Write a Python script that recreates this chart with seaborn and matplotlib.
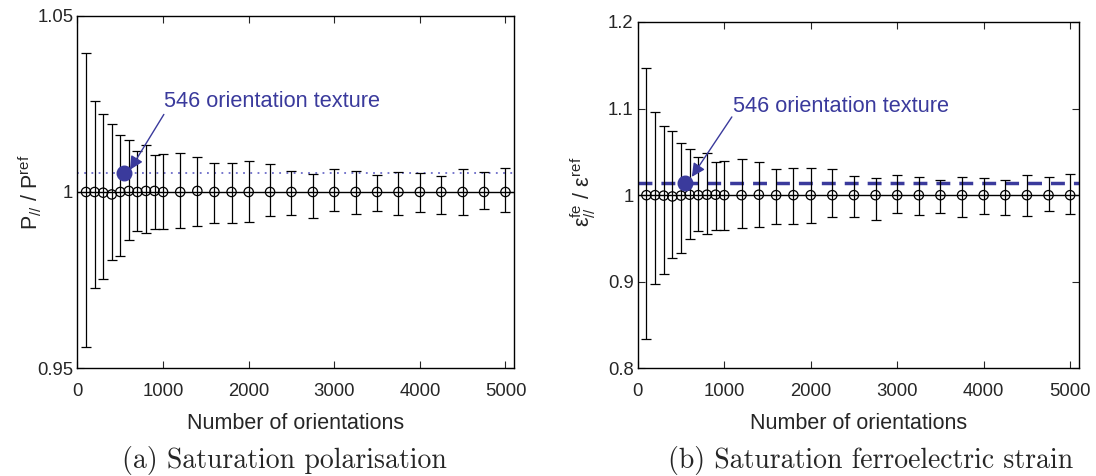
"""
Convergence of saturation polarisation and ferroelectric strain
with the number of grain orientations
"""
import numpy as np
import pandas as pd
import matplotlib
matplotlib.use("Agg")
import matplotlib.pyplot as plt
import seaborn as sns

sns.set_style("white")
plt.rcParams['font.family'] = ['Liberation Sans', 'DejaVu Sans']
plt.rcParams['mathtext.fontset'] = 'custom'
plt.rcParams['mathtext.rm'] = 'Liberation Sans'
plt.rcParams['mathtext.it'] = 'Liberation Sans'

# Data
n_orient = [100, 200, 300, 400, 500, 600, 700, 800, 900, 1000,
            1200, 1400, 1600, 1800, 2000,
            2250, 2500, 2750, 3000, 3250, 3500, 3750, 4000, 4250, 4500, 4750, 5000]

pol_mean = [1.0, 1.0, 0.9998, 0.9993, 1.0, 1.0003, 1.0, 1.0003, 1.0003, 1.0,
            1.0, 1.0003, 1.0, 1.0, 1.0,
            1.0, 1.0, 1.0, 1.0, 1.0, 1.0, 1.0, 1.0, 1.0, 1.0, 1.0, 1.0]
pol_err_up = [0.0393, 0.0257, 0.0222, 0.0200, 0.0162, 0.0144, 0.0115, 0.0131, 0.0101, 0.0107,
              0.0112, 0.0097, 0.0081, 0.0081, 0.0088,
              0.0078, 0.0060, 0.0052, 0.0066, 0.0060, 0.0047, 0.0056, 0.0053, 0.0045, 0.0064, 0.0058, 0.0067]
pol_err_low = [0.0440, 0.0272, 0.0244, 0.0186, 0.0181, 0.0138, 0.0112, 0.0118, 0.0108, 0.0105,
               0.0102, 0.0099, 0.0089, 0.0087, 0.0084,
               0.0068, 0.0065, 0.0073, 0.0055, 0.0061, 0.0054, 0.0064, 0.0056, 0.0062, 0.0065, 0.0048, 0.0056]

str_mean = [1.0, 1.0, 0.9995, 0.9985, 0.9995, 1.0005, 1.0, 1.0005, 1.0005, 1.0,
            1.0, 1.0005, 1.0, 1.0, 1.0,
            1.0, 1.0, 1.0, 1.0, 1.0, 1.0, 1.0, 1.0, 1.0, 1.0, 1.0, 1.0]
str_err_up = [0.1468, 0.0961, 0.0804, 0.0753, 0.0607, 0.0523, 0.0442, 0.0477, 0.0377, 0.0392,
              0.0419, 0.0381, 0.0300, 0.0308, 0.0319,
              0.0303, 0.0223, 0.0200, 0.0238, 0.0211, 0.0177, 0.0204, 0.0196, 0.0177, 0.0238, 0.0208, 0.0246]
str_err_low = [0.1657, 0.1027, 0.0903, 0.0711, 0.0665, 0.0515, 0.0419, 0.0450, 0.0408, 0.0400,
               0.0384, 0.0377, 0.0338, 0.0338, 0.0319,
               0.0254, 0.0257, 0.0281, 0.0211, 0.0234, 0.0208, 0.0250, 0.0215, 0.0234, 0.0242, 0.0185, 0.0215]

texture_n = 546
texture_pol = 1.0053
texture_str = 1.0146
texture_label = '546 orientation texture'

blue = '#3a3a9c'

fig = plt.figure(figsize=(10.96, 4.76), dpi=100)
ax1 = fig.add_axes([0.0707, 0.2263, 0.3983, 0.7407])
ax2 = fig.add_axes([0.5819, 0.226, 0.4024, 0.728])

panels = [
    (ax1, pol_mean, pol_err_low, pol_err_up, texture_pol, (0.95, 1.05), [0.95, 1, 1.05],
     ['0.95', '1', '1.05'], r'$\mathregular{P_{//}\ /\ P^{ref}}$',
     '(a) Saturation polarisation', (1013, 1.0257), (1009, 1.022), (613, 1.0063),
     (-0.077, 0.5), -0.127, (0.475, -0.262)),
    (ax2, str_mean, str_err_low, str_err_up, texture_str, (0.8, 1.2), [0.8, 0.9, 1, 1.1, 1.2],
     ['0.8', '0.9', '1', '1.1', '1.2'], r'$\mathregular{ε^{fe}_{//}\ /\ ε^{ref}}$',
     '(b) Saturation ferroelectric strain', (1100, 1.102), (1088, 1.0903), (625, 1.0211),
     (-0.09, 0.51), -0.129, (0.527, -0.266)),
]

for (ax, mean, err_lo, err_hi, tex_val, ylim, yticks, yticklabels, ylabel,
     caption, text_xy, tail_xy, head_xy, ylab_xy, xlab_y, cap_xy) in panels:
    df = pd.DataFrame({'n': n_orient, 'value': mean})

    # reference line at 1
    ax.axhline(1, color='black', linewidth=1.0, zorder=1)

    # texture reference level
    if ax is ax1:
        ax.axhline(tex_val, color='#6b6bc8', linestyle=(0, (1, 3)), linewidth=1.3, zorder=1)
    else:
        ax.axhline(tex_val, color=blue, linestyle=(0, (4, 2.6)), linewidth=2.5, zorder=1)

    ax.errorbar(df['n'], df['value'], yerr=[err_lo, err_hi], fmt='none',
                ecolor='black', elinewidth=0.9, capsize=3.6, capthick=0.9, zorder=2)
    sns.scatterplot(data=df, x='n', y='value', ax=ax, marker='o', s=45,
                    facecolor='none', edgecolor='black', linewidth=0.9, zorder=3)

    # texture point + annotation
    ax.scatter([texture_n], [tex_val], s=110, color=blue, zorder=4)
    ax.text(text_xy[0], text_xy[1], texture_label, color=blue, fontsize=15.7,
            ha='left', va='center')
    ax.annotate('', xy=head_xy, xytext=tail_xy,
                arrowprops=dict(arrowstyle='-|>', color=blue, lw=1.0,
                                mutation_scale=20, shrinkA=0, shrinkB=0))

    ax.set_xlim(0, 5100)
    ax.set_ylim(*ylim)
    ax.set_xticks([0, 1000, 2000, 3000, 4000, 5000])
    ax.set_yticks(yticks)
    ax.set_yticklabels(yticklabels)
    ax.tick_params(direction='in', length=5, width=0.8, labelsize=13.3,
                   top=True, right=True, bottom=True, left=True)
    ax.tick_params(axis='x', pad=10.5)
    ax.tick_params(axis='y', pad=3)
    for spine in ax.spines.values():
        spine.set_visible(True)
        spine.set_color('black')
        spine.set_linewidth(1.0)
    ax.set_xlabel('Number of orientations', fontsize=15.5)
    ax.xaxis.set_label_coords(0.5, xlab_y)
    ax.set_ylabel(ylabel, fontsize=15.5)
    ax.yaxis.set_label_coords(*ylab_xy)
    ax.text(cap_xy[0], cap_xy[1], caption, transform=ax.transAxes, ha='center',
            va='center', fontsize=20, fontfamily='cmr10')

plt.savefig('out.png', dpi=100)
